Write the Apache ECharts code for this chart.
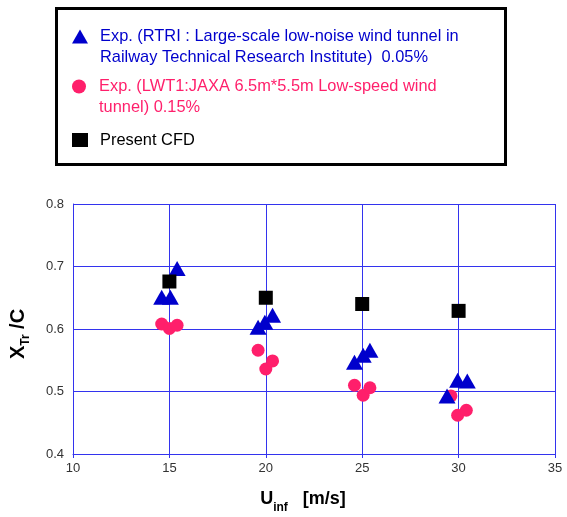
<!DOCTYPE html>
<html>
<head>
<meta charset="utf-8">
<script src="https://cdn.jsdelivr.net/npm/echarts@6/dist/echarts.min.js"></script>
<style>
  html, body { margin: 0; padding: 0; background: #fff; }
  #chart { width: 567px; height: 517px; }
</style>
</head>
<body>
<div id="chart"></div>
<script>
// Exp. RTRI (triangles)
const rtriX = [14.6, 15.05, 15.4, 19.6, 19.95, 20.35, 24.6, 25.05, 25.4, 29.4, 29.95, 30.45];
const rtriY = [0.651, 0.651, 0.697, 0.603, 0.611, 0.622, 0.547, 0.558, 0.566, 0.493, 0.518, 0.517];
// Exp. LWT1 (circles)
const lwtX = [14.6, 15.0, 15.4, 19.6, 20.0, 20.35, 24.6, 25.05, 25.4, 29.6, 29.95, 30.4];
const lwtY = [0.608, 0.601, 0.606, 0.566, 0.536, 0.549, 0.510, 0.494, 0.506, 0.493, 0.462, 0.470];
// Present CFD (squares)
const cfdX = [15, 20, 25, 30];
const cfdY = [0.676, 0.650, 0.640, 0.629];

const xTicks = [10, 15, 20, 25, 30, 35];
const yTicks = [0.4, 0.5, 0.6, 0.7, 0.8];

const names = [
  'Exp. (RTRI : Large-scale low-noise wind tunnel in\nRailway Technical Research Institute)  0.05%',
  'Exp. (LWT1:JAXA 6.5m*5.5m Low-speed wind\ntunnel) 0.15%',
  'Present CFD'
];
const blue = '#0000cc';
const pink = '#ff1f6b';
const gridBlue = '#3333ee';
const font = 'Liberation Sans, Arial';

const pairs = (xs, ys) => xs.map((x, i) => [x, ys[i]]);

const chart = echarts.init(document.getElementById('chart'));

// multi-line legend text is centred on the icon; a leading blank line
// puts the icon level with the first line instead
function legendAt(top, name, color) {
  const multi = name.indexOf('\n') >= 0;
  return {
    left: 72, top: top, padding: 0, itemWidth: 16, itemHeight: 14, itemGap: 0,
    selectedMode: false,
    data: [name],
    formatter: n => (multi ? '\n' + n : n),
    textStyle: {
      color: color, fontFamily: font, fontSize: 16.4,
      lineHeight: 21, padding: [0, 0, 0, 7]
    }
  };
}

const subRich = (size) => ({
  b: { fontSize: size, fontWeight: 'bold', color: '#000', fontFamily: font, verticalAlign: 'top', lineHeight: 24 },
  sub: { fontSize: 12, fontWeight: 'bold', color: '#000', fontFamily: font, verticalAlign: 'bottom', padding: [11, 0, 0, 0], lineHeight: 16 }
});

chart.setOption({
  animation: false,
  backgroundColor: '#fff',
  graphic: [{
    type: 'rect', left: 54, top: 6,
    shape: { width: 449, height: 156 },
    style: { fill: 'none', stroke: '#000', lineWidth: 3 }
  }],
  legend: [
    legendAt(5, names[0], blue),
    legendAt(55, names[1], pink),
    legendAt(129.5, names[2], '#000')
  ],
  grid: { left: 73, right: 12, top: 204, bottom: 63 },
  xAxis: {
    type: 'value', min: xTicks[0], max: xTicks[xTicks.length - 1], interval: 5,
    name: '{b|U}{sub|inf}{b|   [m/s]}',
    nameLocation: 'middle', nameGap: 36,
    nameTextStyle: { rich: subRich(18), padding: [0, 22, 0, 0] },
    axisLine: { show: true, lineStyle: { color: gridBlue, width: 1 } },
    axisTick: { show: true, length: 4, lineStyle: { color: gridBlue } },
    axisLabel: { color: '#333', fontSize: 13, fontFamily: font, margin: 8 },
    splitLine: { show: true, lineStyle: { color: gridBlue, width: 1 } }
  },
  yAxis: {
    type: 'value', min: yTicks[0], max: yTicks[yTicks.length - 1], interval: 0.1,
    name: '{b|X}{sub|Tr}{b| /C}',
    nameLocation: 'middle', nameGap: 41, nameRotate: 90,
    nameTextStyle: { rich: subRich(20), padding: [0, 10, 0, 0] },
    axisLine: { show: true, lineStyle: { color: gridBlue, width: 1 } },
    axisTick: { show: false },
    axisLabel: { color: '#333', fontSize: 13, fontFamily: font, margin: 9, formatter: v => v.toFixed(1) },
    splitLine: { show: true, lineStyle: { color: gridBlue, width: 1 } }
  },
  series: [
    {
      name: names[0], type: 'scatter', symbol: 'triangle', symbolSize: [17, 15],
      itemStyle: { color: blue, opacity: 1 },
      data: pairs(rtriX, rtriY), z: 3
    },
    {
      name: names[1], type: 'scatter', symbol: 'circle', symbolSize: 13,
      itemStyle: { color: pink, opacity: 1 },
      data: pairs(lwtX, lwtY), z: 2
    },
    {
      name: names[2], type: 'scatter', symbol: 'rect', symbolSize: 14,
      itemStyle: { color: '#000', opacity: 1 },
      data: pairs(cfdX, cfdY), z: 4
    }
  ]
});
window.addEventListener('resize', () => chart.resize());
</script>
</body>
</html>
